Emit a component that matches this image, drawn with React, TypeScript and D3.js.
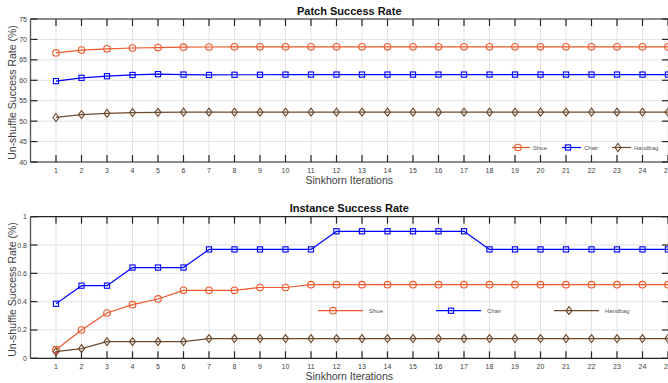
import React, { useEffect, useRef } from 'react';
import * as d3 from 'd3';

const iterations = [1, 2, 3, 4, 5, 6, 7, 8, 9, 10, 11, 12, 13, 14, 15, 16, 17, 18, 19, 20, 21, 22, 23, 24, 25];

// Patch success rate (%)
const patchShoe = [66.7, 67.4, 67.7, 67.9, 68.0, 68.1, 68.15, 68.2, 68.2, 68.2, 68.2, 68.2, 68.2, 68.2, 68.2, 68.2, 68.2, 68.2, 68.2, 68.2, 68.2, 68.2, 68.2, 68.2, 68.2];
const patchChair = [59.8, 60.6, 61.0, 61.3, 61.5, 61.4, 61.3, 61.35, 61.35, 61.4, 61.4, 61.4, 61.4, 61.4, 61.4, 61.4, 61.4, 61.4, 61.4, 61.4, 61.4, 61.4, 61.4, 61.4, 61.4];
const patchHandbag = [50.9, 51.6, 51.9, 52.1, 52.15, 52.2, 52.2, 52.2, 52.2, 52.2, 52.2, 52.2, 52.2, 52.2, 52.2, 52.2, 52.2, 52.2, 52.2, 52.2, 52.2, 52.2, 52.2, 52.2, 52.2];

// Instance success rate
const instShoe = [0.061, 0.2, 0.32, 0.379, 0.419, 0.48, 0.48, 0.48, 0.5, 0.5, 0.52, 0.52, 0.52, 0.52, 0.52, 0.52, 0.52, 0.52, 0.52, 0.52, 0.52, 0.52, 0.52, 0.52, 0.52];
const instChair = [0.385, 0.513, 0.513, 0.641, 0.641, 0.641, 0.769, 0.769, 0.769, 0.769, 0.769, 0.897, 0.897, 0.897, 0.897, 0.897, 0.897, 0.769, 0.769, 0.769, 0.769, 0.769, 0.769, 0.769, 0.769];
const instHandbag = [0.047, 0.068, 0.118, 0.118, 0.118, 0.118, 0.139, 0.139, 0.139, 0.139, 0.139, 0.139, 0.139, 0.139, 0.139, 0.139, 0.139, 0.139, 0.139, 0.139, 0.139, 0.139, 0.139, 0.139, 0.139];

const seriesNames = ['Shoe', 'Chair', 'Handbag'];
const patchTicks = [40, 45, 50, 55, 60, 65, 70, 75];
const instTicks = [0, 0.2, 0.4, 0.6, 0.8, 1];

const colors = { Shoe: '#ec5a2c', Chair: '#0000ff', Handbag: '#6e4a2c' };

const W = 668;
const H = 383;

export default function App() {
  const ref = useRef(null);

  useEffect(() => {
    const svg = d3.select(ref.current);
    svg.selectAll('*').remove();

    const left = 30.5;
    const right = 668;
    // right edge of the axes box sits just past the picture edge
    const boxRight = 670.5;
    const x = d3.scaleLinear().domain([0, 25]).range([left, right]);
    const font = 'Liberation Sans, Arial, sans-serif';

    const drawMarker = (g, name, cx, cy) => {
      if (name === 'Shoe') {
        g.append('circle').attr('cx', cx).attr('cy', cy).attr('r', 3.3)
          .attr('fill', 'none').attr('stroke', colors.Shoe).attr('stroke-width', 1.1);
      } else if (name === 'Chair') {
        g.append('rect').attr('x', cx - 2.6).attr('y', cy - 2.6).attr('width', 5.2).attr('height', 5.2)
          .attr('fill', 'none').attr('stroke', colors.Chair).attr('stroke-width', 1.1);
      } else {
        g.append('path').attr('d', `M${cx},${cy - 4}L${cx + 3},${cy}L${cx},${cy + 4}L${cx - 3},${cy}Z`)
          .attr('fill', 'none').attr('stroke', colors.Handbag).attr('stroke-width', 1.1);
      }
    };

    const drawPanel = (opts) => {
      const { top, bottom, domain, ticks, fmt, title, series, legend } = opts;
      const y = d3.scaleLinear().domain(domain).range([bottom, top]);
      const g = svg.append('g');

      // grid
      g.append('g').selectAll('line').data(iterations).join('line')
        .attr('x1', d => x(d)).attr('x2', d => x(d))
        .attr('y1', top).attr('y2', bottom)
        .attr('stroke', '#e3e3e3').attr('stroke-width', 1);
      g.append('g').selectAll('line').data(ticks).join('line')
        .attr('x1', left).attr('x2', boxRight)
        .attr('y1', d => y(d)).attr('y2', d => y(d))
        .attr('stroke', '#e3e3e3').attr('stroke-width', 1);

      // box
      g.append('line').attr('x1', left).attr('x2', boxRight).attr('y1', top).attr('y2', top)
        .attr('stroke', '#262626').attr('stroke-width', 1.2);
      g.append('line').attr('x1', left).attr('x2', boxRight).attr('y1', bottom).attr('y2', bottom)
        .attr('stroke', '#262626').attr('stroke-width', 1.2);
      g.append('line').attr('x1', left).attr('x2', left).attr('y1', top).attr('y2', bottom)
        .attr('stroke', '#5a5a5a').attr('stroke-width', 1.4);
      g.append('line').attr('x1', boxRight).attr('x2', boxRight).attr('y1', top).attr('y2', bottom)
        .attr('stroke', '#262626').attr('stroke-width', 1.2);

      // x ticks (inward top and bottom)
      const tk = 7;
      g.append('g').selectAll('line').data(iterations).join('line')
        .attr('x1', d => x(d)).attr('x2', d => x(d))
        .attr('y1', bottom).attr('y2', bottom - tk)
        .attr('stroke', '#262626').attr('stroke-width', 1.2);
      g.append('g').selectAll('line').data(iterations).join('line')
        .attr('x1', d => x(d)).attr('x2', d => x(d))
        .attr('y1', top).attr('y2', top + tk)
        .attr('stroke', '#262626').attr('stroke-width', 1.2);
      // y ticks
      g.append('g').selectAll('line').data(ticks).join('line')
        .attr('x1', left).attr('x2', left + tk)
        .attr('y1', d => y(d)).attr('y2', d => y(d))
        .attr('stroke', '#262626').attr('stroke-width', 1.2);
      g.append('g').selectAll('line').data(ticks).join('line')
        .attr('x1', boxRight).attr('x2', boxRight - 8.5)
        .attr('y1', d => y(d)).attr('y2', d => y(d))
        .attr('stroke', '#262626').attr('stroke-width', 1.2);

      // tick labels
      g.append('g').selectAll('text').data(iterations).join('text')
        .attr('x', d => x(d)).attr('y', bottom + 10.5)
        .attr('text-anchor', 'middle')
        .attr('font-family', font).attr('font-size', 7)
        .attr('fill', '#404040')
        .text(d => d);
      g.append('g').selectAll('text').data(ticks).join('text')
        .attr('x', left - 3.5).attr('y', d => y(d) + 2.5)
        .attr('text-anchor', 'end')
        .attr('font-family', font).attr('font-size', 7)
        .attr('fill', '#404040')
        .text(d => fmt(d));

      // title and labels
      g.append('text').attr('x', (left + right) / 2).attr('y', top - 4.5)
        .attr('text-anchor', 'middle')
        .attr('font-family', font).attr('font-size', 11)
        .attr('font-weight', 'bold').attr('fill', '#111')
        .text(title);
      g.append('text').attr('x', (left + right) / 2).attr('y', bottom + 22)
        .attr('text-anchor', 'middle')
        .attr('font-family', font).attr('font-size', 10.5)
        .attr('fill', '#404040')
        .text('Sinkhorn Iterations');
      g.append('text')
        .attr('transform', `translate(16,${(top + bottom) / 2 + 2}) rotate(-90)`)
        .attr('text-anchor', 'middle')
        .attr('font-family', font).attr('font-size', 10.5)
        .attr('fill', '#404040')
        .text('Un-shuffle Success Rate (%)');

      // series
      const line = d3.line().x((d, i) => x(iterations[i])).y(d => y(d));
      seriesNames.forEach((name, si) => {
        const vals = series[si];
        g.append('path').datum(vals)
          .attr('d', line)
          .attr('fill', 'none')
          .attr('stroke', colors[name])
          .attr('stroke-width', 1.2)
          .attr('stroke-linejoin', 'round');
        const mg = g.append('g');
        vals.forEach((v, i) => drawMarker(mg, name, x(iterations[i]), y(v)));
      });

      // legend
      seriesNames.forEach((name, si) => {
        const L = legend[si];
        g.append('line').attr('x1', L.x1).attr('x2', L.x2).attr('y1', legend.y).attr('y2', legend.y)
          .attr('stroke', colors[name]).attr('stroke-width', 1.2);
        drawMarker(g, name, L.m, legend.y);
        g.append('text').attr('x', L.t).attr('y', legend.y + 2.3)
          .attr('font-family', font).attr('font-size', 6)
          .attr('fill', '#555')
          .text(name);
      });
    };

    const topLegend = [
      { x1: 512, x2: 530, m: 518, t: 533 },
      { x1: 562, x2: 581, m: 568, t: 584 },
      { x1: 612, x2: 631, m: 618, t: 634 },
    ];
    topLegend.y = 147.5;
    const botLegend = [
      { x1: 318, x2: 363, m: 333, t: 369 },
      { x1: 436, x2: 481, m: 451, t: 487 },
      { x1: 554, x2: 599, m: 569, t: 605 },
    ];
    botLegend.y = 310.7;

    drawPanel({
      top: 19, bottom: 162, domain: [40, 75], ticks: patchTicks, fmt: d => d,
      title: 'Patch Success Rate', series: [patchShoe, patchChair, patchHandbag], legend: topLegend,
    });
    drawPanel({
      top: 216.7, bottom: 358.3, domain: [0, 1], ticks: instTicks, fmt: d => d3.format('~g')(d),
      title: 'Instance Success Rate', series: [instShoe, instChair, instHandbag], legend: botLegend,
    });
  }, []);

  return (
    <svg ref={ref} width={W} height={H}
      style={{ position: 'absolute', left: 0, top: 0, background: '#fff' }} />
  );
}
